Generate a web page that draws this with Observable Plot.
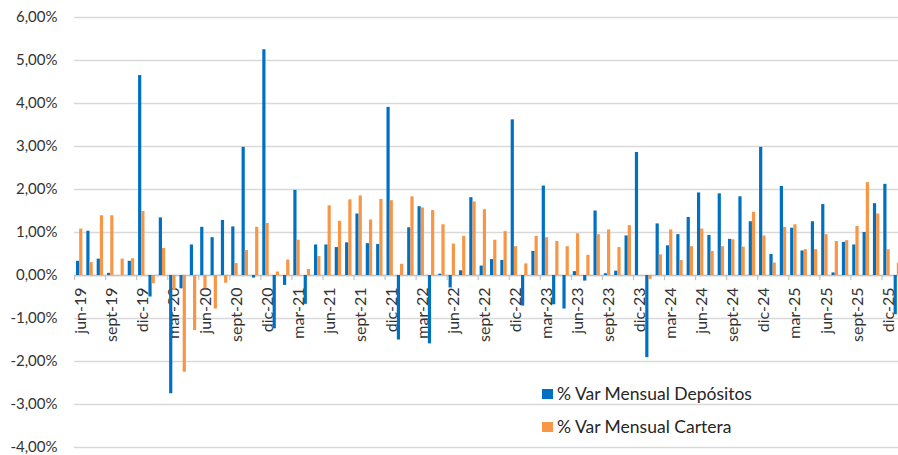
<!DOCTYPE html>
<html>
<head>
<meta charset="utf-8">
<script src="https://cdn.jsdelivr.net/npm/d3@7"></script>
<script src="https://cdn.jsdelivr.net/npm/@observablehq/plot@0.6"></script>
<style>
  html, body { margin: 0; padding: 0; background: #fff; overflow: hidden; }
  #wrap { position: relative; width: 898px; height: 455px; font-family: Lato, "Open Sans", sans-serif; }
  .legend { position: absolute; left: 542px; color: #262626; font-size: 17.5px; line-height: 20px; display: flex; align-items: center; white-space: nowrap; }
  .legend .sw { width: 11px; height: 10px; margin-right: 4px; }
</style>
</head>
<body>
<div id="wrap">
  <div id="chart"></div>
  <div class="legend" style="top:384px"><span class="sw" style="background:#0070C0"></span>% Var Mensual Depósitos</div>
  <div class="legend" style="top:417px"><span class="sw" style="background:#F79646"></span>% Var Mensual Cartera</div>
</div>
<script>
const months = [
  "jun-19","jul-19","ago-19","sept-19","oct-19","nov-19","dic-19","ene-20","feb-20","mar-20","abr-20","may-20",
  "jun-20","jul-20","ago-20","sept-20","oct-20","nov-20","dic-20","ene-21","feb-21","mar-21","abr-21","may-21",
  "jun-21","jul-21","ago-21","sept-21","oct-21","nov-21","dic-21","ene-22","feb-22","mar-22","abr-22","may-22",
  "jun-22","jul-22","ago-22","sept-22","oct-22","nov-22","dic-22","ene-23","feb-23","mar-23","abr-23","may-23",
  "jun-23","jul-23","ago-23","sept-23","oct-23","nov-23","dic-23","ene-24","feb-24","mar-24","abr-24","may-24",
  "jun-24","jul-24","ago-24","sept-24","oct-24","nov-24","dic-24","ene-25","feb-25","mar-25","abr-25","may-25",
  "jun-25","jul-25","ago-25","sept-25","oct-25","nov-25","dic-25","ene-26"
];
const tickLabels = [
  "jun-19","sept-19","dic-19","mar-20","jun-20","sept-20","dic-20","mar-21","jun-21","sept-21","dic-21",
  "mar-22","jun-22","sept-22","dic-22","mar-23","jun-23","sept-23","dic-23","mar-24","jun-24","sept-24",
  "dic-24","mar-25","jun-25","sept-25","dic-25"
];
const depositos = [
  0.33, 1.03, 0.38, 0.05, 0.00, 0.33, 4.65, -0.50, 1.34, -2.75, -0.31, 0.71,
  1.12, 0.88, 1.28, 1.13, 2.98, -0.06, 5.25, -1.24, -0.23, 1.98, -0.67, 0.71,
  0.71, 0.65, 0.76, 1.43, 0.74, 0.72, 3.91, -1.50, 1.11, 1.60, -1.59, 0.03,
  -0.29, 0.11, 1.81, 0.22, 0.37, 0.35, 3.62, -0.71, 0.56, 2.08, -0.68, -0.78,
  0.09, -0.13, 1.50, 0.04, 0.10, 0.92, 2.86, -1.91, 1.20, 0.69, 0.95, 1.35,
  1.92, 0.93, 1.90, 0.84, 1.83, 1.25, 2.98, 0.49, 2.07, 1.10, 0.57, 1.25,
  1.65, 0.06, 0.77, 0.71, 1.00, 1.67, 2.12, -0.91
];
const cartera = [
  1.08, 0.30, 1.39, 1.39, 0.38, 0.39, 1.49, -0.19, 0.63, -0.35, -2.25, -1.28,
  -0.31, -0.78, -0.18, 0.28, 0.58, 1.12, 1.21, 0.08, 0.36, 0.82, 0.14, 0.44,
  1.62, 1.26, 1.76, 1.85, 1.29, 1.77, 1.74, 0.26, 1.83, 1.57, 1.51, 1.18,
  0.73, 0.91, 1.71, 1.53, 0.82, 1.02, 0.67, 0.27, 0.91, 0.88, 0.79, 0.67,
  0.97, 0.47, 0.95, 1.06, 0.65, 1.16, 0.00, -0.09, 0.48, 1.06, 0.35, 0.67,
  1.08, 0.56, 0.67, 0.83, 0.66, 1.47, 0.92, 0.29, 1.12, 1.18, 0.60, 0.60,
  0.95, 0.79, 0.81, 1.14, 2.16, 1.43, 0.60, 0.29
];
const yTicks = [-4, -3, -2, -1, 0, 1, 2, 3, 4, 5, 6];

const dep = months.map((m, i) => ({month: m, value: depositos[i]}));
const car = months.map((m, i) => ({month: m, value: cartera[i]}));

const W = 898, H = 455, mL = 74, mR = -4;
const bw = (W - mR - mL) / months.length;
const barW = 3.2, gap0 = (bw - 2 * barW) / 2;

const chart = Plot.plot({
  width: W, height: H,
  marginLeft: mL, marginRight: mR, marginTop: 17, marginBottom: 8,
  style: {fontFamily: "Lato, 'Open Sans', sans-serif", fontSize: "15px", color: "#333", background: "transparent", overflow: "visible"},
  x: {type: "band", domain: months, padding: 0, round: false, axis: null},
  y: {domain: [-4, 6], axis: null},
  marks: [
    Plot.gridY(yTicks, {stroke: "#d9d9d9", strokeOpacity: 1, strokeWidth: 1.3}),
    Plot.axisY(yTicks, {tickSize: 0, tickPadding: 17, fontSize: 15, fill: "#333", label: null,
      tickFormat: d => d.toFixed(2).replace(".", ",") + "%"}),
    Plot.text(tickLabels, {x: d => d, y: 0, text: d => d, rotate: -90, textAnchor: "end",
      dy: 12, dx: 1.5, fontSize: 16, fill: "#333"}),
    Plot.ruleY([0], {stroke: "#c4c4c4", strokeWidth: 1.3}),
    Plot.barY(tickLabels, {x: d => d, y1: 0, y2: -0.12, fill: "#c4c4c4", insetRight: bw - 1.2}),
    Plot.barY(dep, {x: "month", y: "value", fill: "#0070C0", insetLeft: gap0, insetRight: bw - gap0 - barW}),
    Plot.barY(car, {x: "month", y: "value", fill: "#F79646", insetLeft: gap0 + barW, insetRight: gap0})
  ]
});
document.getElementById("chart").appendChild(chart);
</script>
</body>
</html>
